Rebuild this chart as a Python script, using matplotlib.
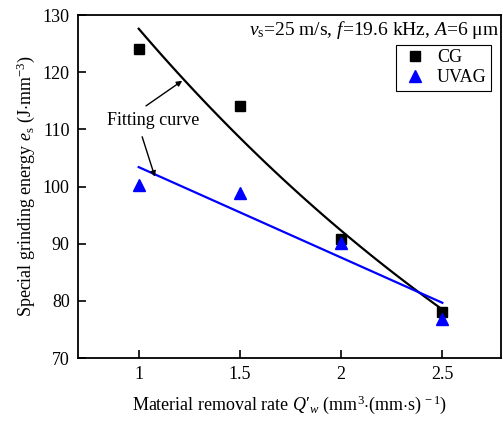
import numpy as np
import matplotlib
matplotlib.use("Agg")
import matplotlib.pyplot as plt

plt.rcParams["font.family"] = ["Liberation Serif", "DejaVu Serif"]
plt.rcParams["mathtext.fontset"] = "custom"
plt.rcParams["mathtext.rm"] = "Liberation Serif"
plt.rcParams["mathtext.it"] = "Liberation Serif:italic"

# material removal rate
q_w = [1.0, 1.5, 2.0, 2.5]
# specific grinding energy
cg = [124.1, 114.0, 90.9, 78.0]
uvag = [100.3, 98.8, 90.2, 76.8]
xticks = [1, 1.5, 2, 2.5]
xtick_labels = ["1", "1.5", "2", "2.5"]
yticks = [70, 80, 90, 100, 110, 120, 130]

fs = 13

fig = plt.figure(figsize=(5.03, 4.23), dpi=100)
ax = fig.add_axes([78 / 503, 1 - 358 / 423, 423 / 503, 343 / 423])

# fitting curves: exponential for CG, linear for UVAG
xs = np.linspace(1.0, 2.5, 100)
b, ln_a = np.polyfit(q_w, np.log(cg), 1)
ax.plot(xs, np.exp(ln_a + b * xs), color="black", lw=1.6, zorder=2)
k, c = np.polyfit(q_w, uvag, 1)
ax.plot(xs, k * xs + c, color="#0000ff", lw=1.6, zorder=2)

ax.plot(q_w, cg, ls="none", marker="s", ms=7.5, color="black", label="CG", zorder=3)
ax.plot(q_w, uvag, ls="none", marker="^", ms=8.5, color="#0000ff", label="UVAG", zorder=4)

ax.set_xlim(0.7, 2.79)
ax.set_ylim(70, 130)
ax.set_xticks(xticks, xtick_labels)
ax.set_yticks(yticks)
ax.tick_params(direction="in", length=6, width=1.2, labelsize=fs, top=False, right=False, pad=6)
for s in ax.spines.values():
    s.set_linewidth(1.3)

ax.set_xlabel(r"Material removal rate $Q$" + "\u2032" + r"${}_w$ (mm$^3$$\cdot$(mm$\cdot$s)$^{\,-1}$)",
              fontsize=fs, labelpad=7)
ax.set_ylabel(r"Special grinding energy $e_\mathrm{s}$ (J$\cdot$mm$^{-3}$)", fontsize=fs, labelpad=4)

ax.text(0.997, 0.955, r"$v_\mathrm{s}$=25 m/s, $f$=19.6 kHz, $A$=6 μm",
        transform=ax.transAxes, ha="right", va="center", fontsize=14)

ax.legend(loc="upper right", bbox_to_anchor=(0.977, 0.913), fontsize=fs, frameon=True,
          fancybox=False, edgecolor="black", framealpha=1, handletextpad=0.4,
          borderpad=0.25, labelspacing=0.15, handlelength=1.6, borderaxespad=0)
ax.get_legend().get_frame().set_linewidth(0.8)

ax.text(0.845, 111.6, "Fitting curve", fontsize=fs, ha="left", va="center")
arrow = dict(arrowstyle="-|>", color="black", lw=1.0, mutation_scale=8, shrinkA=0, shrinkB=0)
ax.annotate("", xy=(1.215, 118.5), xytext=(1.036, 114.1), arrowprops=arrow)
ax.annotate("", xy=(1.08, 101.7), xytext=(1.017, 108.7), arrowprops=arrow)

fig.savefig("out.png", dpi=100)
